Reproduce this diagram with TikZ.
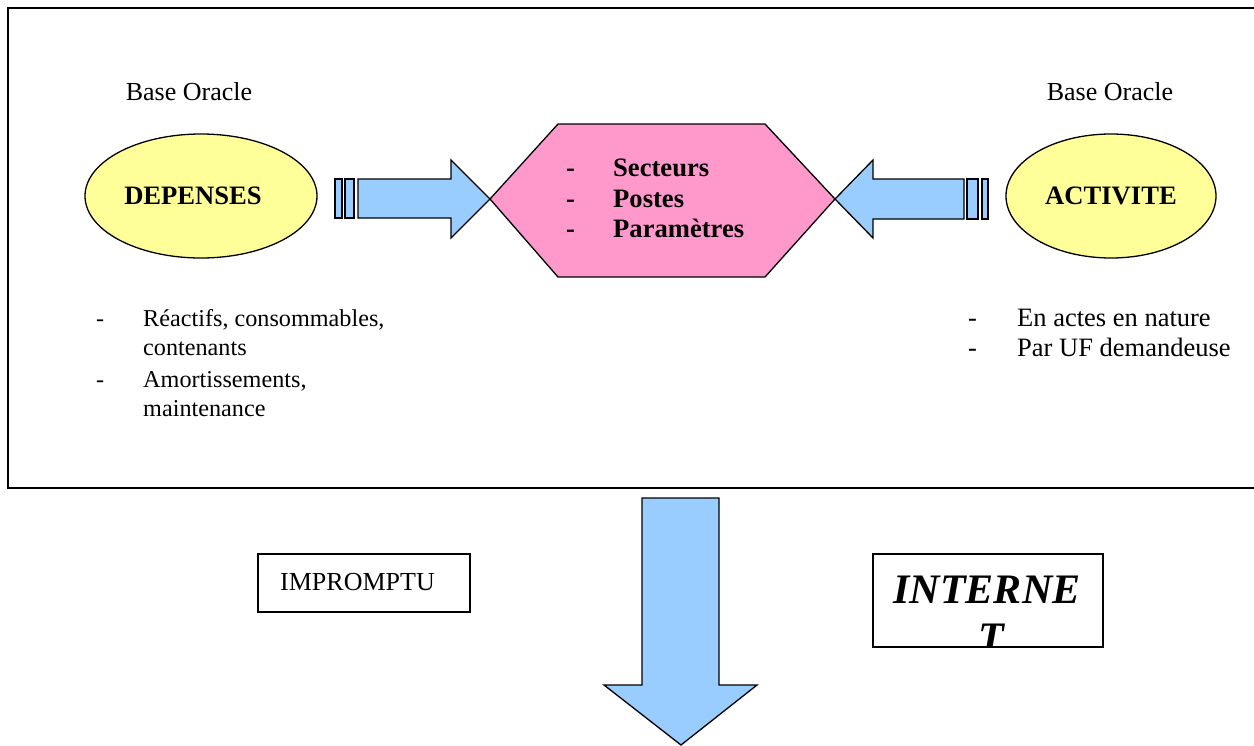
\documentclass[tikz,border=0pt]{standalone}
\usepackage{fontspec}
\setmainfont{Liberation Serif}
\usetikzlibrary{shapes.geometric}
\definecolor{oracleyellow}{HTML}{FFFF99}
\definecolor{hexpink}{HTML}{FF99CC}
\definecolor{arrowblue}{HTML}{99CCFF}
\tikzset{
  txt/.style={inner sep=0pt, font=\fontsize{26}{30}\selectfont},
  smalltxt/.style={inner sep=0pt, font=\fontsize{24.2}{29}\selectfont},
  widetxt/.style={inner sep=0pt, font=\fontsize{26.5}{30}\selectfont},
  btxt/.style={inner sep=0pt, font=\fontsize{26.6}{30}\selectfont\bfseries},
  base/.style={ellipse, draw, line width=1.3pt, fill=oracleyellow, inner sep=0pt},
  blockarrow/.style={draw, line width=1.3pt, fill=arrowblue, line join=miter},
  frame/.style={draw, line width=2.5pt},
  labelbox/.style={draw, line width=1.3pt, fill=white}
}
\begin{document}
\begin{tikzpicture}[x=1pt,y=-1pt]
\useasboundingbox (0,0) rectangle (1254,745);
\clip (0,0) rectangle (1254,745);

% outer frame (runs off the right edge)
\draw[frame] (8,8) rectangle (1275,488);

% source labels
\node[txt, anchor=base] (oracleL) at (189,100) {Base Oracle};
\node[txt, anchor=base] (oracleR) at (1110,100) {Base Oracle};

% databases
\node[base, minimum width=232pt, minimum height=124pt] (dep) at (201,196) {};
\node[btxt] at (193,196) {DEPENSES};
\node[base, minimum width=210pt, minimum height=124pt] (act) at (1111,196) {};
\node[btxt] at (act.center) {ACTIVITE};

% central hexagon
\coordinate (hexL) at (490,199);
\coordinate (hexR) at (835,199);
\draw[line width=1.3pt, fill=hexpink, line join=miter]
  (hexL) -- (558,124) -- (765,124) -- (hexR) -- (765,277) -- (558,277) -- cycle;
\foreach \y/\w in {176/Secteurs, 207/Postes, 237/Paramètres}{
  \node[btxt, anchor=base west] at (566,\y) {-};
  \node[btxt, anchor=base west] at (613,\y) {\w};
}

% left striped arrow into the hexagon
\draw[blockarrow] (335,179) rectangle (342,218);
\draw[blockarrow] (345,179) rectangle (354,218);
\draw[blockarrow] (358,179) -- (451,179) -- (451,160) -- (hexL) -- (451,238) -- (451,218) -- (358,218) -- cycle;

% right striped arrow into the hexagon
\draw[blockarrow] (982,179) rectangle (988,219);
\draw[blockarrow] (967,179) rectangle (978,219);
\draw[blockarrow] (964,179) -- (873,179) -- (873,160) -- (hexR) -- (873,238) -- (873,219) -- (964,219) -- cycle;

% details under DEPENSES
\foreach \y in {326,387}{ \node[smalltxt, anchor=base west] at (96,\y) {-}; }
\node[smalltxt, anchor=base west] at (143,326) {Réactifs, consommables,};
\node[smalltxt, anchor=base west] at (143,355) {contenants};
\node[smalltxt, anchor=base west] at (143,387) {Amortissements,};
\node[smalltxt, anchor=base west] at (143,416) {maintenance};

% details under ACTIVITE
\foreach \y in {326,356}{ \node[widetxt, anchor=base west] at (968,\y) {-}; }
\node[widetxt, anchor=base west] at (1017,326) {En actes en nature};
\node[widetxt, anchor=base west] at (1017,356) {Par UF demandeuse};

% output arrow
\coordinate (outTip) at (681,745);
\draw[blockarrow] (642,498) -- (719,498) -- (719,685) -- (757,685) -- (outTip) -- (604,685) -- (642,685) -- cycle;

% destination boxes
\draw[labelbox] (258,554) rectangle (470,612);
\node[txt, anchor=base west] (imp) at (280,590) {IMPROMPTU};

\draw[labelbox] (873,554) rectangle (1103,647);
\begin{scope}
  \clip (874,555) rectangle (1102,646);
  \node[inner sep=0pt, anchor=base, font=\fontsize{42}{48}\selectfont\bfseries\itshape] (net1) at (987,603) {INTERNE};
  \node[inner sep=0pt, anchor=base, font=\fontsize{42}{48}\selectfont\bfseries\itshape] (net2) at (991,651) {T};
\end{scope}
\end{tikzpicture}
\end{document}
